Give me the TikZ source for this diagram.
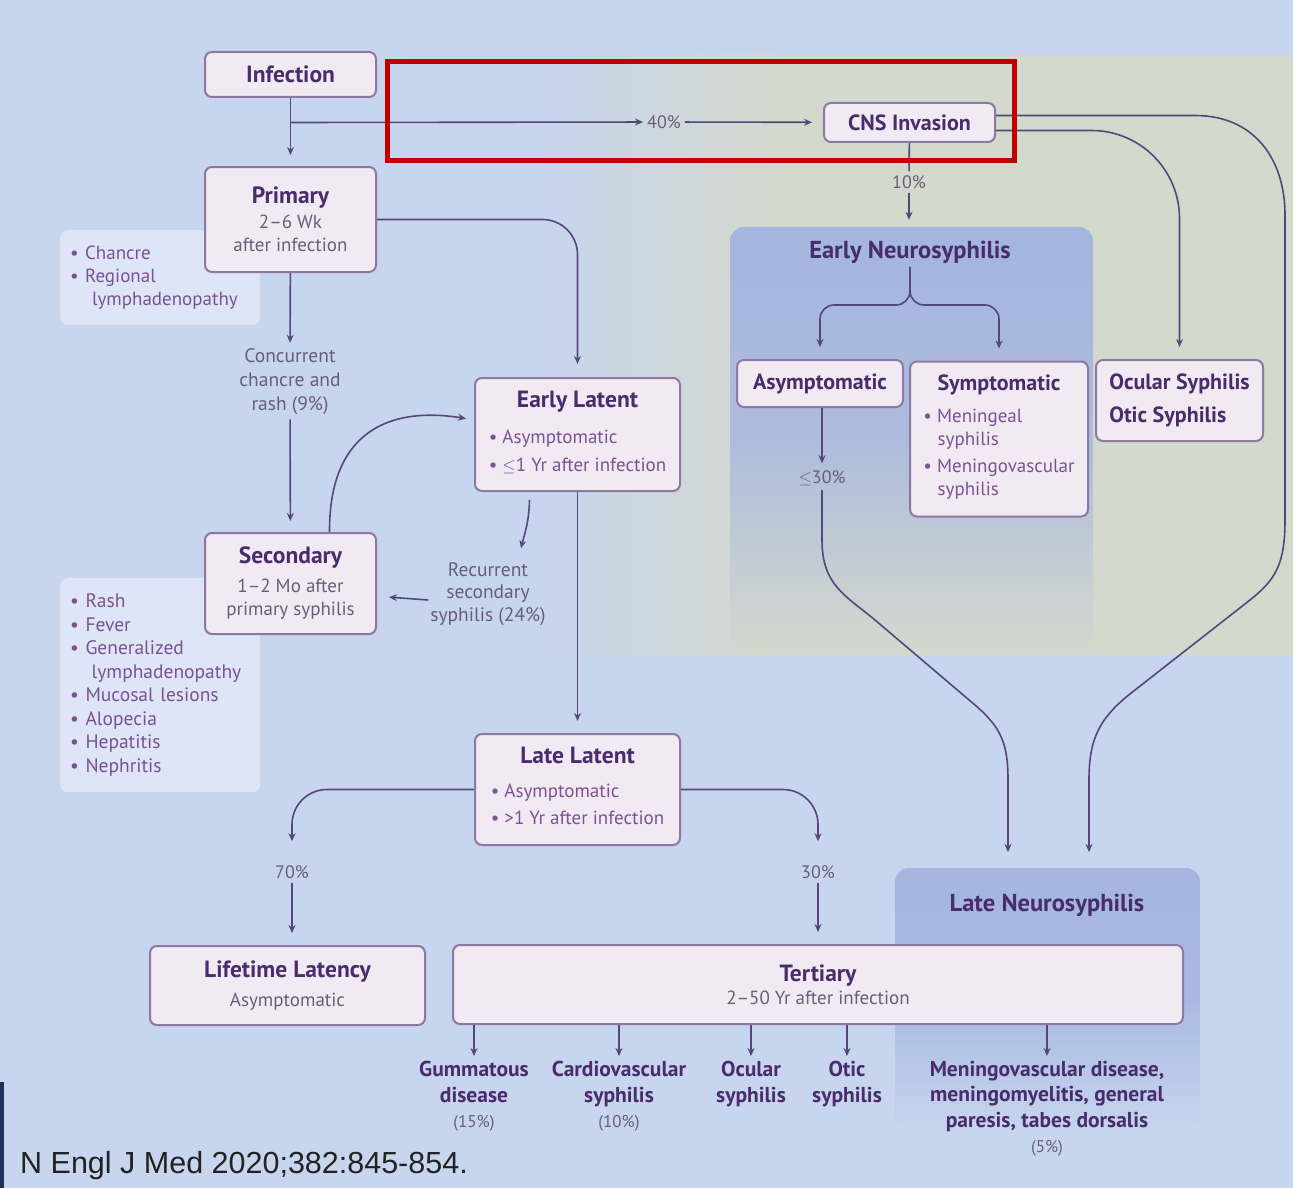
\documentclass[tikz,border=0pt]{standalone}
\usepackage{fontspec}
\setmainfont{PT Sans}
\newfontfamily\capfont{Liberation Sans}
\usetikzlibrary{arrows.meta,positioning,calc}

\definecolor{bgblue}{RGB}{199,213,238}
\definecolor{bgbeige}{RGB}{212,217,206}
\definecolor{panelblue}{RGB}{164,181,223}
\definecolor{boxfill}{RGB}{242,234,243}
\definecolor{boxline}{RGB}{140,120,162}
\definecolor{titlecol}{RGB}{72,44,108}
\definecolor{notecol}{RGB}{104,94,120}
\definecolor{bulletcol}{RGB}{122,82,148}
\definecolor{arrowcol}{RGB}{84,72,120}
\definecolor{listfill}{RGB}{221,229,247}
\definecolor{redframe}{RGB}{192,0,0}
\definecolor{captext}{RGB}{34,34,34}
\definecolor{darkbar}{RGB}{32,50,92}

\newcommand{\stagetitle}[1]{{\fontsize{23.5}{23}\selectfont\bfseries\color{titlecol}#1}}
\newcommand{\smalltitle}[1]{{\fontsize{22}{23}\selectfont\bfseries\color{titlecol}#1}}
\newcommand{\stagenote}[1]{{\color{notecol}#1}}
\newcommand{\bulletrows}[1]{{\color{bulletcol}\begin{tabular}[t]{@{}l@{}}#1\end{tabular}}}
\newcommand{\outpct}[1]{{\mdseries\fontsize{17}{25.5}\selectfont\color{notecol}#1}}

\tikzset{
  stage/.style={draw=boxline, line width=2pt, fill=boxfill, rounded corners=7pt,
    align=center, inner sep=3pt, font=\fontsize{19}{23}\selectfont},
  panel/.style={rounded corners=14pt, draw=none, inner sep=0pt},
  listbox/.style={fill=listfill, rounded corners=8pt, draw=none, align=left,
    text=bulletcol, anchor=north west},
  pct/.style={font=\fontsize{18}{20}\selectfont, text=notecol, inner sep=4pt},
  outcome/.style={align=center, anchor=north, inner sep=2pt, text=titlecol,
    font=\fontsize{21.5}{25.5}\selectfont\bfseries},
  paneltitle/.style={font=\fontsize{24.5}{26}\selectfont\bfseries, text=titlecol},
  arr/.style={draw=arrowcol, line width=1.6pt, -{Stealth[length=8pt,width=7pt]}},
  lin/.style={draw=arrowcol, line width=1.6pt}
}

\begin{document}
\begin{tikzpicture}[x=1pt,y=1pt,yscale=-1]
\useasboundingbox (0,0) rectangle (1293,1188);

%Shape: background
\fill[bgblue] (0,0) rectangle (1293,1188);
\shade[left color=bgblue, right color=bgbeige] (540,55) rectangle (780,655);
\fill[bgbeige] (779,55) rectangle (1293,655);
\fill[darkbar] (0,1082) rectangle (4,1188);

%Shape: neurosyphilis panels
\draw (911.5,441) node [panel, minimum width=363pt, minimum height=428pt, top color=panelblue, bottom color=bgbeige, middle color=panelblue!80!bgbeige] (ens) {};
\draw (1047.5,1000) node [panel, minimum width=305pt, minimum height=264pt, top color=panelblue, bottom color=bgblue, middle color=panelblue!85!bgblue] (lns) {};
% Text Node
\draw (910,252) node [paneltitle] (enstitle) {Early Neurosyphilis};
% Text Node
\draw (1047,905) node [paneltitle] (lnstitle) {Late Neurosyphilis};

%Shape: sign lists
\draw (60,230) node [listbox, minimum width=200pt, minimum height=95pt, text width=180pt, font=\fontsize{19}{23}\selectfont] (chlist) {• Chancre\\• Regional\\\hspace*{1.15em}lymphadenopathy};
\draw (60,578) node [listbox, minimum width=200pt, minimum height=214pt, text width=180pt, font=\fontsize{19.5}{23.5}\selectfont] (seclist) {• Rash\\• Fever\\• Generalized\\\hspace*{1.1em}lymphadenopathy\\• Mucosal lesions\\• Alopecia\\• Hepatitis\\• Nephritis};

%Shape: stages
\draw (290.5,74.5) node [stage, minimum width=171pt, minimum height=45pt] (inf) {\stagetitle{Infection}};
\draw (909.5,122.5) node [stage, minimum width=171pt, minimum height=39pt] (cns) {\smalltitle{CNS Invasion}};
\draw (290.5,219.5) node [stage, minimum width=171pt, minimum height=105pt] (prim) {\stagetitle{Primary}\\[2pt]\stagenote{2–6 Wk}\\\stagenote{after infection}};
\draw (577.5,434.5) node [stage, minimum width=205pt, minimum height=113pt] (elat) {\stagetitle{Early Latent}\\[13pt]\bulletrows{• Asymptomatic\\[5pt]• $\leq$1 Yr after infection}};
\draw (290.5,583.5) node [stage, minimum width=171pt, minimum height=101pt] (sec) {\stagetitle{Secondary}\\[6pt]\stagenote{1–2 Mo after}\\\stagenote{primary syphilis}};
\draw (577.5,789.5) node [stage, minimum width=205pt, minimum height=111pt] (llat) {\stagetitle{Late Latent}\\[11pt]\bulletrows{• Asymptomatic\\[4pt]• >1 Yr after infection}};
\draw (820,383.5) node [stage, minimum width=166pt, minimum height=47pt] (asym) {\smalltitle{Asymptomatic}};
\draw (999,439) node [stage, minimum width=178pt, minimum height=155pt] (symp) {\smalltitle{Symptomatic}\\[9pt]\bulletrows{• Meningeal\\\hspace*{0.75em}syphilis\\[4pt]• Meningovascular\\\hspace*{0.75em}syphilis}};
\draw (1179.5,400.5) node [stage, minimum width=167pt, minimum height=81pt, align=left] (ocu) {\smalltitle{Ocular Syphilis}\\[10pt]\smalltitle{Otic Syphilis}};
\draw (287.5,985.5) node [stage, minimum width=275pt, minimum height=79pt] (lifel) {\stagetitle{Lifetime Latency}\\[6pt]\stagenote{Asymptomatic}};
\draw (818,984.5) node [stage, minimum width=730pt, minimum height=79pt] (tert) {\stagetitle{Tertiary}\\\stagenote{2–50 Yr after infection}};

% Text Node
\draw (664,122) node [pct] (p40) {40\%};
\draw (909,182) node [pct] (p10) {10\%};
\draw (822,478) node [pct] (p30b) {$\leq$30\%};
\draw (292,872) node [pct] (p70) {70\%};
\draw (818,872) node [pct] (p30) {30\%};
\draw (290,382) node [pct, align=center, font=\fontsize{19.5}{24}\selectfont] (conc) {Concurrent\\chancre and\\rash (9\%)};
\draw (488,594) node [pct, align=center, font=\fontsize{19.5}{22.5}\selectfont] (rec) {Recurrent\\secondary\\syphilis (24\%)};

% Text Node
\draw (474,1059) node [outcome] (gum) {Gummatous\\disease\\\outpct{(15\%)}};
\draw (619,1059) node [outcome] (cardio) {Cardiovascular\\syphilis\\\outpct{(10\%)}};
\draw (751,1059) node [outcome] (ocul) {Ocular\\syphilis};
\draw (847,1059) node [outcome] (otic) {Otic\\syphilis};
\draw (1047,1059) node [outcome] (menin) {Meningovascular disease,\\meningomyelitis, general\\paresis, tabes dorsalis\\\outpct{(5\%)}};

% Text Node
\draw (20,1173) node [anchor=base west, inner sep=0pt, text=captext, font=\capfont\fontsize{30.5}{36}\selectfont] (cite) {N Engl J Med 2020;382:845-854.};

\coordinate (brace) at (910,305);
\coordinate (dropA) at (1008,852);
\coordinate (dropB) at (1089,852);

%Straight Lines
\draw[arr, shorten >=11pt] (inf) -- (prim);
\draw[arr] (inf |- cns) -- (p40);
\draw[arr, shorten >=11pt] (p40) -- (cns);
\draw[lin] (cns) -- (p10);
\draw[arr, shorten >=7pt] (p10) -- (p10 |- ens.north);
\draw[arr, rounded corners=35pt, shorten >=13pt] (prim.east) -| (elat.north);
\draw[arr, shorten >=2pt] (prim) -- (conc);
\draw[arr, shorten >=11pt] (conc) -- (sec);
\draw[arr, shorten >=12pt] (elat) -- (llat);
\draw[arr, shorten >=2pt] ($(rec.west)+(2,6)$) -- ($(sec.east)+(10,13.5)$);
\draw[arr, rounded corners=35pt, shorten >=20pt] (llat.west) -| (p70.north);
\draw[arr, rounded corners=35pt, shorten >=20pt] (llat.east) -| (p30.north);
\draw[arr, shorten >=12pt] (p70) -- (p70 |- lifel.north);
\draw[arr, shorten >=12pt] (p30) -- (p30 |- tert.north);
\draw[arr, rounded corners=14pt, shorten >=12pt] (enstitle.south) -- (brace) -| (asym.north);
\draw[arr, rounded corners=14pt, shorten >=12pt] (enstitle.south) -- (brace) -| (symp.north);
\draw[arr, rounded corners=88pt, shorten >=12pt] ($(cns.east)+(0,8)$) -| (ocu.north);
\draw[arr, shorten >=3pt] (asym.south -| p30b) -- (p30b);
\foreach \o in {gum,cardio,ocul,otic,menin}
  \draw[arr, shorten >=3pt] (tert.south -| \o.north) -- (\o.north);

%Curve Lines
\draw[arr] ($(sec.north)+(39,0)$) .. controls (329,440) and (380,405) .. ($(elat.west)+(-8,-16)$);
\draw[arr] ($(elat.south)+(-48,8)$) .. controls (529,522) and (525,532) .. ($(rec.north)+(33,-10)$);
\draw[arr] (p30b) -- (822,540) .. controls (822,585) and (845,595) .. (875,620) -- (975,705) .. controls (1002,728) and (1008,745) .. (1008,780) -- (dropA);
\draw[arr] ($(cns.east)+(0,-7)$) -- (1195,115.5) .. controls (1255,115.5) and (1285,160) .. (1285,215) -- (1285,520) .. controls (1285,565) and (1275,580) .. (1250,600) -- (1135,690) .. controls (1098,718) and (1089,740) .. (1089,780) -- (dropB);

%Shape: highlight frame
\draw[redframe, line width=5.5pt] (387.5,61.5) rectangle (1014.5,160.5);

\end{tikzpicture}
\end{document}
